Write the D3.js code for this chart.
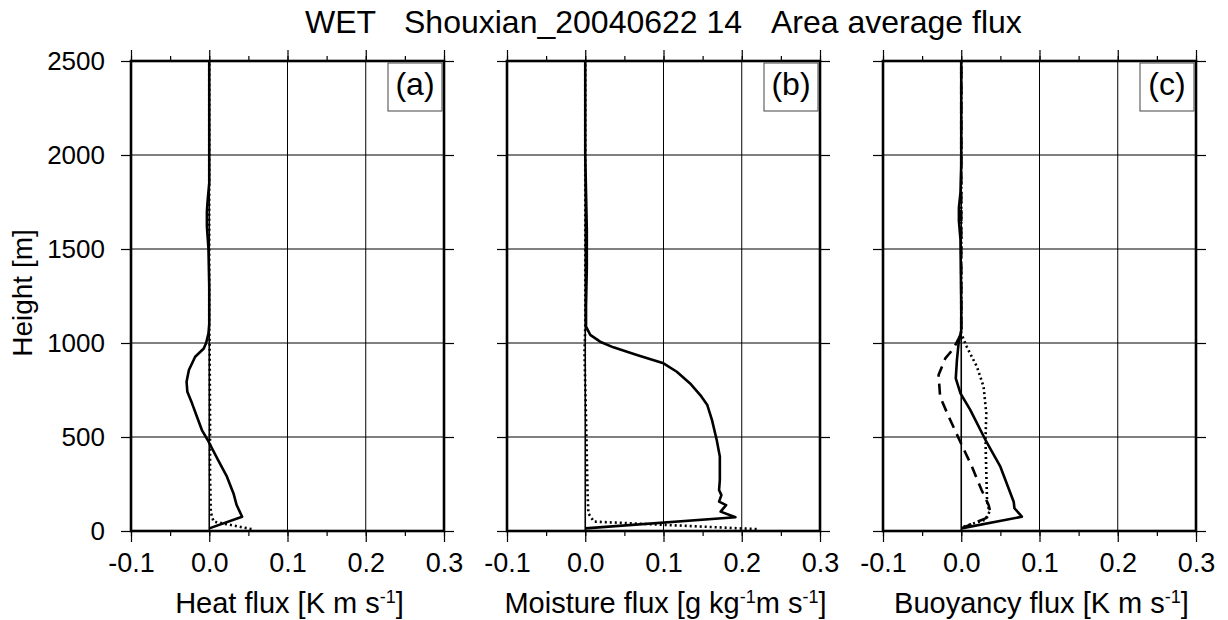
<!DOCTYPE html>
<html><head><meta charset="utf-8">
<script src="https://cdn.jsdelivr.net/npm/d3@7"></script>
<style>
body{margin:0;background:#fff;}
svg{display:block;font-family:"Liberation Sans",Arial,Helvetica,sans-serif;}
text{white-space:pre;}
</style></head>
<body>
<svg id="chart" width="1228" height="620"></svg>
<script>
// ---------- data ----------
const titleParts = ["WET", "Shouxian_20040622 14", "Area average flux"];
const xTicks = [-0.1, 0.0, 0.1, 0.2, 0.3];
const yTicks = [0, 500, 1000, 1500, 2000, 2500];
const panelLabels = ["(a)", "(b)", "(c)"];

// panel (a) heat flux
const aSolidH = [14, 76, 138, 200, 289, 380, 484, 537, 608, 679, 741, 794, 856, 927, 971, 1000, 1051, 1100, 1300, 1500, 1620, 1700, 1760, 1850, 2000, 2500];
const aSolidV = [0, 0.042, 0.035, 0.031, 0.0226, 0.011, -0.002, -0.0094, -0.0157, -0.022, -0.028, -0.029, -0.026, -0.018, -0.007, -0.004, -0.001, 0, 0, -0.001, -0.003, -0.003, -0.002, 0, 0, 0];
const aDotH = [10, 50, 100, 300, 600, 1000, 1100, 2500];
const aDotV = [0.054, 0.0055, 0.002, 0.001, 0.001, 0.0005, 0, 0];

// panel (b) moisture flux
const bSolidH = [14, 73, 103, 138, 156, 191, 218, 271, 396, 484, 590, 670, 723, 785, 847, 892, 936, 977, 1007, 1043, 1087, 1200, 1400, 1600, 1800, 2000, 2500];
const bSolidV = [0, 0.192, 0.173, 0.180, 0.171, 0.174, 0.171, 0.172, 0.172, 0.168, 0.162, 0.156, 0.147, 0.134, 0.117, 0.100, 0.066, 0.036, 0.019, 0.0064, 0.001, 0.001, 0.002, 0.002, 0.001, 0, 0];
const bDotH = [10, 50, 94, 200, 600, 950, 1087, 2500];
const bDotV = [0.219, 0.011, 0.004, 0.003, 0.001, -0.001, 0, 0];

// panel (c) buoyancy flux
const cSolidH = [14, 76, 121, 156, 342, 484, 644, 732, 812, 910, 998, 1069, 1200, 1550, 1650, 1720, 1800, 1950, 2500];
const cSolidV = [0, 0.0775, 0.068, 0.067, 0.050, 0.031, 0.0115, -0.001, -0.007, -0.0055, -0.0034, 0, 0, -0.001, -0.003, -0.003, -0.001, 0, 0];
const cDashH = [14, 67, 103, 138, 218, 342, 475, 608, 714, 830, 918, 971, 1050, 2500];
const cDashV = [0, 0.031, 0.037, 0.035, 0.026, 0.0137, -0.0013, -0.016, -0.027, -0.029, -0.0204, -0.0098, 0, 0];
const cDotH = [23, 62, 103, 156, 307, 484, 626, 768, 874, 980, 1050, 2500];
const cDotV = [0.003, 0.032, 0.036, 0.033, 0.032, 0.031, 0.032, 0.0285, 0.020, 0.007, 0, 0];

const xLabels = [
  [["Heat flux [K m s", false], ["-1", true], ["]", false]],
  [["Moisture flux [g kg", false], ["-1", true], ["m s", false], ["-1", true], ["]", false]],
  [["Buoyancy flux [K m s", false], ["-1", true], ["]", false]]
];

const zip = (h, v) => h.map((d, i) => ({h: d, v: v[i]}));
const panels = [
  {series: [{d: zip(aSolidH, aSolidV), dash: null}, {d: zip(aDotH, aDotV), dash: "2,3"}]},
  {series: [{d: zip(bSolidH, bSolidV), dash: null}, {d: zip(bDotH, bDotV), dash: "2,3"}]},
  {series: [{d: zip(cSolidH, cSolidV), dash: null}, {d: zip(cDashH, cDashV), dash: "11,7"}, {d: zip(cDotH, cDotV), dash: "2,3"}]}
];

// ---------- layout ----------
const svg = d3.select("#chart");
const lefts = [131, 507, 883];
const pw = 313;
const yTop = 61, yBot = 531;
const y = d3.scaleLinear().domain([0, 2500]).range([yBot, yTop]);
const fmtX = d => d3.format(".1f")(d).replace("\u2212", "-");

// title: three segments separated by wide gaps
const tt = svg.append("text").attr("y", 33).attr("font-size", 32);
tt.append("tspan").attr("x", 305).text(titleParts[0]);
tt.append("tspan").attr("x", 404).text(titleParts[1]);
tt.append("tspan").attr("x", 771).text(titleParts[2]);

svg.append("text").attr("transform", `translate(32,${(yTop+yBot)/2 - 3}) rotate(-90)`)
  .attr("text-anchor", "middle").attr("font-size", 28).text("Height [m]");

panels.forEach((p, i) => {
  const L = lefts[i];
  const x = d3.scaleLinear().domain([-0.1, 0.3]).range([L, L + pw]);
  const g = svg.append("g");

  // grid
  g.selectAll(".gx").data([0.1, 0.2]).join("line")
    .attr("x1", d => x(d)).attr("x2", d => x(d)).attr("y1", yTop).attr("y2", yBot)
    .attr("stroke", "#000").attr("stroke-width", 1);
  g.selectAll(".gy").data([500, 1000, 1500, 2000]).join("line")
    .attr("x1", L).attr("x2", L + pw).attr("y1", d => y(d)).attr("y2", d => y(d))
    .attr("stroke", "#000").attr("stroke-width", 1);
  // zero line
  g.append("line").attr("x1", x(0)).attr("x2", x(0)).attr("y1", yTop).attr("y2", yBot)
    .attr("stroke", "#000").attr("stroke-width", 1.6);

  // curves
  const line = d3.line().x(d => x(d.v)).y(d => y(d.h));
  p.series.forEach(s => {
    g.append("path").datum(s.d).attr("d", line).attr("fill", "none")
      .attr("stroke", "#000").attr("stroke-width", 2.6)
      .attr("stroke-linejoin", "round")
      .attr("stroke-dasharray", s.dash);
  });

  // axes
  const minor = d3.range(-0.1, 0.3001, 0.05);
  const bx = g.append("g").attr("transform", `translate(0,${yBot})`)
    .call(d3.axisBottom(x).tickValues(xTicks).tickFormat(fmtX).tickSize(11).tickPadding(11));
  g.append("g").attr("transform", `translate(0,${yBot})`)
    .call(d3.axisBottom(x).tickValues(minor).tickFormat("").tickSize(5));
  g.append("g").attr("transform", `translate(0,${yTop})`)
    .call(d3.axisTop(x).tickValues(xTicks).tickFormat("").tickSize(11));
  g.append("g").attr("transform", `translate(0,${yTop})`)
    .call(d3.axisTop(x).tickValues(minor).tickFormat("").tickSize(5));
  const ly = g.append("g").attr("transform", `translate(${L},0)`)
    .call(d3.axisLeft(y).tickValues(yTicks).tickSize(10).tickPadding(16).tickFormat(i === 0 ? d3.format("d") : ""));
  g.append("g").attr("transform", `translate(${L + pw},0)`)
    .call(d3.axisRight(y).tickValues(yTicks).tickSize(10).tickFormat(""));
  g.selectAll(".domain").remove();
  g.selectAll(".tick line").attr("stroke", "#000").attr("stroke-width", 1.2);
  g.selectAll(".tick text").attr("fill", "#000")
    .attr("font-family", "Liberation Sans, Arial, sans-serif");
  bx.selectAll(".tick text").attr("font-size", 27);
  ly.selectAll(".tick text").attr("font-size", 26);

  // frame
  g.append("rect").attr("x", L).attr("y", yTop).attr("width", pw).attr("height", yBot - yTop)
    .attr("fill", "none").attr("stroke", "#000").attr("stroke-width", 2.6);

  // panel label
  g.append("rect").attr("x", L + pw - 56).attr("y", 63).attr("width", 54).attr("height", 48)
    .attr("fill", "#fff").attr("stroke", "#444").attr("stroke-width", 1);
  g.append("text").attr("x", L + pw - 29).attr("y", 95).attr("text-anchor", "middle")
    .attr("font-size", 32).text(panelLabels[i]);

  // x label
  const t = svg.append("text").attr("x", L + pw / 2 + 2).attr("y", 613).attr("text-anchor", "middle")
    .attr("font-size", 29).attr("xml:space", "preserve");
  xLabels[i].forEach(([s, sup]) => {
    t.append("tspan").attr("font-size", sup ? 18 : 29)
      .attr("baseline-shift", sup ? "55%" : null).text(s);
  });
});
</script>
</body></html>
